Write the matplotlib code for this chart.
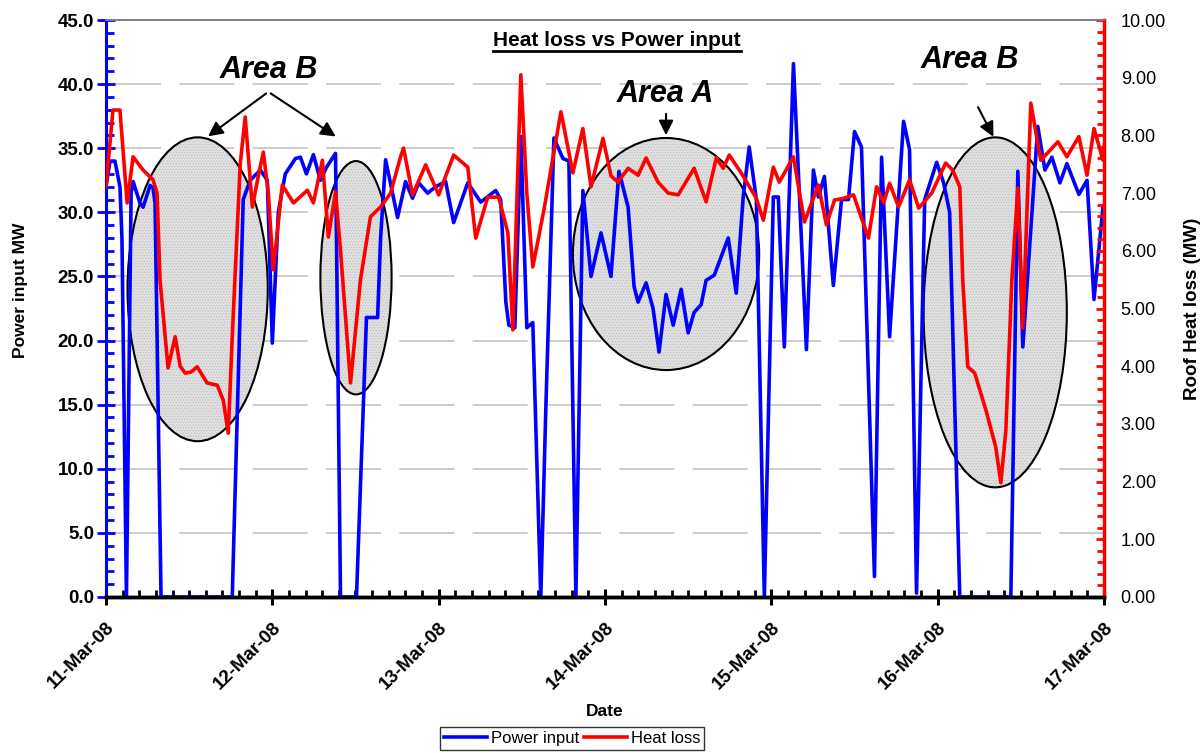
import pandas as pd
import matplotlib
matplotlib.use('Agg')
import matplotlib.pyplot as plt
import matplotlib.dates as mdates
from matplotlib.patches import Ellipse
from matplotlib.lines import Line2D
from matplotlib.ticker import MultipleLocator, FormatStrFormatter

plt.rcParams['font.family'] = ['Liberation Sans', 'DejaVu Sans']
plt.rcParams['hatch.linewidth'] = 0.5

start = pd.Timestamp('2008-03-11')

# power input (MW), time as days after 11-Mar-08 00:00
power_days = [0.000, 0.024, 0.054, 0.084, 0.096, 0.123, 0.151, 0.163, 0.205, 0.223,
              0.265, 0.283, 0.295, 0.331, 0.759, 0.825, 0.867, 0.928, 0.970, 1.000,
              1.036, 1.078, 1.139, 1.169, 1.205, 1.247, 1.289, 1.325, 1.380, 1.410,
              1.506, 1.566, 1.633, 1.651, 1.681, 1.753, 1.801, 1.843, 1.880, 1.934,
              1.982, 2.042, 2.090, 2.175, 2.253, 2.343, 2.373, 2.404, 2.422, 2.458,
              2.494, 2.530, 2.566, 2.614, 2.645, 2.693, 2.747, 2.783, 2.825, 2.867,
              2.916, 2.976, 3.036, 3.084, 3.139, 3.175, 3.199, 3.247, 3.289, 3.325,
              3.367, 3.410, 3.458, 3.500, 3.536, 3.578, 3.608, 3.657, 3.741, 3.789,
              3.831, 3.867, 3.910, 3.958, 4.012, 4.042, 4.078, 4.133, 4.211, 4.253,
              4.283, 4.319, 4.373, 4.422, 4.464, 4.500, 4.542, 4.620, 4.663, 4.711,
              4.795, 4.831, 4.873, 4.922, 4.994, 5.036, 5.072, 5.133, 5.440, 5.482,
              5.512, 5.602, 5.645, 5.687, 5.735, 5.777, 5.849, 5.898, 5.940, 5.994,
              6.000]
power_mw = [32.0, 34.0, 34.0, 32.0, 28.0, 0.0, 31.5, 32.4, 30.7, 30.4,
            32.1, 31.9, 30.7, 0.0, 0.0, 31.0, 32.5, 33.3, 32.5, 19.8,
            30.0, 33.0, 34.2, 34.3, 33.0, 34.5, 32.5, 33.5, 34.6, 0.0,
            0.0, 21.8, 21.8, 28.0, 34.1, 29.6, 32.4, 31.1, 32.3, 31.5,
            32.0, 32.4, 29.2, 32.3, 30.8, 31.7, 31.0, 23.0, 21.2, 21.0,
            35.9, 21.0, 21.4, 0.0, 15.0, 35.8, 34.2, 34.0, 0.0, 31.7,
            25.0, 28.4, 25.0, 33.2, 30.4, 24.2, 23.0, 24.5, 22.5, 19.1,
            23.6, 21.2, 24.0, 20.6, 22.2, 22.8, 24.7, 25.1, 28.0, 23.7,
            31.2, 35.1, 31.0, 0.0, 31.2, 31.2, 19.5, 41.6, 19.3, 33.3,
            31.2, 32.8, 24.3, 31.0, 31.0, 36.3, 35.1, 1.6, 34.3, 20.3,
            37.1, 34.9, 0.3, 31.0, 33.9, 32.3, 30.0, 0.0, 0.0, 33.2,
            19.5, 36.7, 33.3, 34.3, 32.3, 33.8, 31.4, 32.5, 23.2, 30.4,
            28.9]

# roof heat loss (MW)
heat_days = [0.000, 0.042, 0.084, 0.127, 0.163, 0.223, 0.283, 0.307, 0.325, 0.373,
             0.416, 0.446, 0.476, 0.512, 0.548, 0.608, 0.669, 0.705, 0.735, 0.759,
             0.807, 0.837, 0.880, 0.916, 0.946, 0.976, 1.006, 1.060, 1.127, 1.211,
             1.247, 1.301, 1.337, 1.380, 1.410, 1.470, 1.530, 1.590, 1.651, 1.711,
             1.771, 1.789, 1.843, 1.922, 2.000, 2.090, 2.175, 2.223, 2.295, 2.361,
             2.416, 2.446, 2.494, 2.530, 2.566, 2.633, 2.735, 2.807, 2.867, 2.916,
             2.988, 3.036, 3.078, 3.139, 3.199, 3.247, 3.319, 3.380, 3.440, 3.536,
             3.608, 3.669, 3.711, 3.747, 3.819, 3.910, 3.952, 4.012, 4.048, 4.133,
             4.199, 4.283, 4.331, 4.380, 4.434, 4.494, 4.584, 4.633, 4.675, 4.711,
             4.765, 4.831, 4.886, 4.964, 5.048, 5.090, 5.133, 5.151, 5.181, 5.223,
             5.295, 5.349, 5.380, 5.410, 5.446, 5.482, 5.512, 5.560, 5.620, 5.723,
             5.777, 5.849, 5.898, 5.940, 5.994, 6.000]
heat_mw = [7.11, 8.44, 8.44, 6.83, 7.63, 7.40, 7.23, 7.00, 5.49, 3.97,
           4.51, 4.00, 3.88, 3.90, 3.99, 3.71, 3.67, 3.41, 2.84, 4.50,
           7.50, 8.32, 6.76, 7.30, 7.71, 7.00, 5.67, 7.14, 6.83, 7.05,
           6.83, 7.57, 6.24, 7.02, 6.00, 3.71, 5.50, 6.59, 6.76, 7.00,
           7.63, 7.78, 6.97, 7.49, 6.97, 7.66, 7.45, 6.22, 6.93, 6.93,
           6.31, 4.63, 9.05, 7.00, 5.72, 6.71, 8.41, 7.35, 8.12, 7.11,
           7.95, 7.30, 7.19, 7.43, 7.31, 7.61, 7.19, 7.00, 6.97, 7.43,
           6.85, 7.61, 7.43, 7.66, 7.35, 6.91, 6.53, 7.45, 7.19, 7.63,
           6.50, 7.14, 6.45, 6.88, 6.91, 6.97, 6.22, 7.11, 6.83, 7.17,
           6.76, 7.23, 6.74, 7.00, 7.52, 7.40, 7.11, 5.49, 3.99, 3.88,
           3.19, 2.60, 1.98, 2.89, 5.49, 7.09, 4.66, 8.56, 7.57, 7.89,
           7.63, 7.98, 7.31, 8.12, 7.57, 7.80]

# highlighted areas: label, centre day, centre MW, width (days), height (MW)
areas = ['Area B', 'Area B', 'Area A', 'Area B']
area_day = [0.551, 1.503, 3.367, 5.346]
area_mw = [24.0, 24.9, 26.75, 22.2]
area_w = [0.843, 0.428, 1.120, 0.861]
area_h = [23.7, 18.2, 18.1, 27.3]


def to_num(days):
    return mdates.date2num(start + pd.to_timedelta(pd.Series(days), unit='D'))


fig = plt.figure(figsize=(12.03, 7.53), dpi=100)
ax1 = fig.add_axes([0.0881, 0.2072, 0.8296, 0.7662])
ax2 = ax1.twinx()

# shaded ellipses
for d, m, w, h in zip(area_day, area_mw, area_w, area_h):
    c = to_num([d])[0]
    ax1.add_patch(Ellipse((c, m), w, h, facecolor='#e0e0e0', edgecolor='#bdbdbd',
                          hatch='......', lw=0, zorder=1))
    ax1.add_patch(Ellipse((c, m), w, h, facecolor='none', edgecolor='black',
                          lw=1.5, zorder=1.5))

l1, = ax1.plot(to_num(power_days), power_mw, color='#0000ff', lw=2.6,
               label='Power input', zorder=3, solid_joinstyle='round')
l2, = ax2.plot(to_num(heat_days), heat_mw, color='#ff0000', lw=2.6,
               label='Heat loss', zorder=3, solid_joinstyle='round')

ax1.set_xlim(mdates.date2num(start), mdates.date2num(start + pd.Timedelta(days=6)))
ax1.set_ylim(0, 45)
ax2.set_ylim(0, 10)

ax1.xaxis.set_major_locator(mdates.DayLocator())
ax1.xaxis.set_major_formatter(mdates.DateFormatter('%d-%b-%y'))
ax1.xaxis.set_minor_locator(MultipleLocator(0.1))
ax1.yaxis.set_major_locator(MultipleLocator(5))
ax1.yaxis.set_minor_locator(MultipleLocator(1))
ax1.yaxis.set_major_formatter(FormatStrFormatter('%.1f'))
ax2.yaxis.set_major_locator(MultipleLocator(1))
ax2.yaxis.set_minor_locator(MultipleLocator(0.2))
ax2.yaxis.set_major_formatter(FormatStrFormatter('%.2f'))

ax1.grid(axis='y', which='major', color='#c4c4c4', lw=1.2, dashes=(33, 11))
ax1.set_axisbelow(True)

# spines
for ax in (ax1, ax2):
    ax.spines['top'].set_color('#808080')
    ax.spines['top'].set_linewidth(1.2)
    ax.spines['bottom'].set_linewidth(2.5)
ax1.spines['left'].set_color('#0000ff')
ax1.spines['left'].set_linewidth(2.2)
ax1.spines['right'].set_visible(False)
ax2.spines['left'].set_visible(False)
ax2.spines['right'].set_color('#ff0000')
ax2.spines['right'].set_linewidth(2.5)

ax1.tick_params(axis='x', which='major', direction='inout', length=12, width=2.2, pad=10)
ax1.tick_params(axis='x', which='minor', direction='in', length=5, width=2)
ax1.tick_params(axis='y', which='major', direction='inout', length=13, width=2,
                color='#0000ff', labelsize=13.5, pad=2)
ax1.tick_params(axis='y', which='minor', direction='in', length=6, width=2, color='#0000ff')
ax2.tick_params(axis='y', which='major', direction='in', length=6, width=2,
                color='#ff0000', labelsize=13, pad=12)
ax2.tick_params(axis='y', which='minor', direction='in', length=5, width=2, color='#ff0000')

for lab in ax1.get_yticklabels():
    lab.set_fontweight('bold')
for lab in ax1.get_xticklabels():
    lab.set_fontweight('bold')
    lab.set_fontsize(13.5)
    lab.set_rotation(45)
    lab.set_ha('right')
    lab.set_rotation_mode('anchor')

ax1.set_xlabel('Date', fontsize=12.5, fontweight='bold')
ax1.xaxis.set_label_coords(0.5, -0.185)
ax1.set_ylabel('Power input MW', fontsize=12.5, fontweight='bold')
ax1.yaxis.set_label_coords(-0.078, 0.532)
ax2.set_ylabel('Roof Heat loss (MW)', fontsize=13.5, fontweight='bold')
ax2.yaxis.set_label_coords(1.080, 0.50)

# area labels and arrows
lab_kw = dict(fontsize=22, fontweight='bold', fontstyle='italic', ha='center', va='center', zorder=6)
arr_kw = dict(arrowstyle='-|>', color='black', lw=1.5, mutation_scale=22)


def pt(d, m):
    return (to_num([d])[0], m)


ax1.text(*pt(0.976, 41.1), 'Area B', **lab_kw)
ax1.annotate('', xy=pt(0.600, 35.8), xytext=pt(0.976, 39.4), arrowprops=arr_kw, zorder=6)
ax1.annotate('', xy=pt(1.395, 35.8), xytext=pt(0.976, 39.4), arrowprops=arr_kw, zorder=6)
ax1.text(*pt(3.361, 39.2), 'Area A', **lab_kw)
ax1.annotate('', xy=pt(3.367, 35.8), xytext=pt(3.367, 37.9), arrowprops=arr_kw, zorder=6)
ax1.text(*pt(5.193, 41.9), 'Area B', **lab_kw)
ax1.annotate('', xy=pt(5.343, 35.7), xytext=pt(5.235, 38.4), arrowprops=arr_kw, zorder=6)

# underlined title
title = fig.text(617 / 1203, 1 - 40 / 753, 'Heat loss vs Power input', fontsize=15,
                 fontweight='bold', ha='center', va='center')
fig.canvas.draw()
bb = title.get_window_extent().transformed(fig.transFigure.inverted())
fig.add_artist(Line2D([bb.x0, bb.x1], [bb.y0 - 0.002, bb.y0 - 0.002], color='black',
                      lw=2, transform=fig.transFigure))

leg = fig.legend(handles=[l1, l2], loc='upper center', bbox_to_anchor=(572 / 1203, 1 - 727 / 753),
                 ncol=2, fontsize=12, frameon=True, fancybox=False, edgecolor='black',
                 handlelength=2.6, handletextpad=0.2, columnspacing=0.3, borderpad=0.25,
                 borderaxespad=0)
leg.get_frame().set_linewidth(1)

fig.savefig('out.png', dpi=100)
